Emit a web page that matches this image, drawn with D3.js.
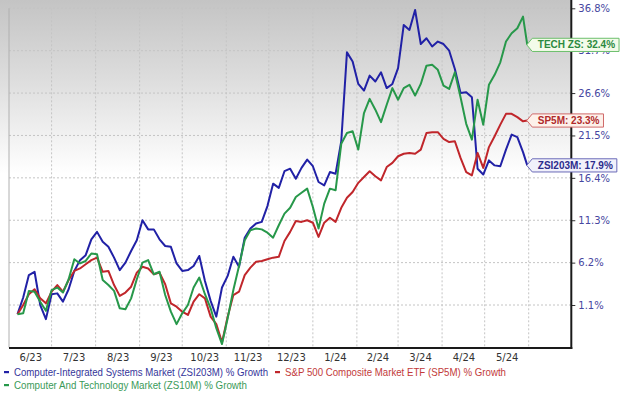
<!DOCTYPE html>
<html>
<head>
<meta charset="utf-8">
<script src="https://cdn.jsdelivr.net/npm/d3@7"></script>
<style>
  body { margin: 0; background: #fff; }
  svg { display: block; }
</style>
</head>
<body>
<svg id="chart"></svg>
<script>
// sample dates, every 4 days (shared by the three series)
let dates = [
  "2023-06-07","2023-06-11","2023-06-15","2023-06-19","2023-06-23","2023-06-27",
  "2023-07-01","2023-07-05","2023-07-09","2023-07-13","2023-07-17","2023-07-21","2023-07-25","2023-07-29",
  "2023-08-02","2023-08-06","2023-08-10","2023-08-14","2023-08-18","2023-08-22","2023-08-26","2023-08-30",
  "2023-09-03","2023-09-07","2023-09-11","2023-09-15","2023-09-19","2023-09-23","2023-09-27",
  "2023-10-01","2023-10-05","2023-10-09","2023-10-13","2023-10-17","2023-10-21","2023-10-25","2023-10-29",
  "2023-11-02","2023-11-06","2023-11-10","2023-11-14","2023-11-18","2023-11-22","2023-11-26","2023-11-30",
  "2023-12-04","2023-12-08","2023-12-12","2023-12-16","2023-12-20","2023-12-24","2023-12-28",
  "2024-01-01","2024-01-05","2024-01-09","2024-01-13","2024-01-17","2024-01-21","2024-01-25","2024-01-29",
  "2024-02-02","2024-02-06","2024-02-10","2024-02-14","2024-02-18","2024-02-22","2024-02-26",
  "2024-03-01","2024-03-05","2024-03-09","2024-03-13","2024-03-17","2024-03-21","2024-03-25","2024-03-29",
  "2024-04-02","2024-04-06","2024-04-10","2024-04-14","2024-04-18","2024-04-22","2024-04-26","2024-04-30",
  "2024-05-04","2024-05-08","2024-05-12","2024-05-16","2024-05-20","2024-05-24","2024-05-28","2024-05-31"
]

// % growth
let zsi203m = [
  0, 2.0, 4.7, 5.1, 1.1, -0.6, 2.4, 2.5, 1.5, 3.0,
  5.2, 6.5, 7.1, 9.0, 9.9, 8.7, 8.1, 6.8, 5.3, 6.2,
  7.6, 8.9, 11.3, 10.2, 10.2, 9.0, 8.2, 8.1, 6.1, 5.2,
  5.3, 5.8, 7.0, 4.0, 1.6, -0.3, 3.2, 4.6, 6.9, 5.7,
  9.2, 10.3, 10.9, 11.1, 13.0, 15.7, 15.2, 17.2, 17.5, 16.3,
  17.6, 18.6, 17.8, 15.9, 15.5, 17.1, 16.9, 20.8, 31.5, 30.4,
  27.7, 26.9, 28.7, 28.0, 29.1, 27.2, 27.7, 29.6, 34.8, 34.2,
  36.6, 32.5, 33.2, 32.2, 32.8, 32.5, 31.7, 29.5, 26.6, 26.7,
  26.1, 17.5, 16.8, 18.5, 17.9, 17.8, 19.8, 21.6, 21.3, 19.5,
  17.9
]
let sp5m = [
  0, 1.1, 2.4, 3.0, 1.9, 1.3, 2.7, 3.5, 2.7, 4.1,
  5.2, 5.5, 6.0, 6.5, 6.8, 5.1, 5.2, 3.5, 2.2, 2.6,
  3.3, 5.0, 5.7, 5.5, 4.8, 5.0, 3.6, 1.3, 0.9, 0.3,
  -0.1, 1.5, 2.4, 1.9, -0.3, -1.2, -3.4, -0.3, 2.3, 2.7,
  4.7, 5.6, 6.3, 6.4, 6.6, 6.8, 6.9, 8.8, 9.9, 11.2,
  11.1, 11.3, 11.0, 9.3, 11.0, 11.6, 11.1, 12.8, 14.0, 14.7,
  15.8, 16.5, 17.2, 16.6, 16.1, 17.7, 18.2, 19.0, 19.3, 19.4,
  19.3, 19.8, 21.8, 21.9, 21.9, 21.1, 20.7, 20.8, 18.8, 17.1,
  16.7, 19.4, 17.6, 20.1, 21.4, 22.8, 24.1, 24.1, 23.7, 23.2,
  23.3
]
let zs10m = [
  0, 0.1, 2.8, 2.7, 1.5, 0.4, 2.9, 3.2, 2.6, 4.2,
  6.6, 6.1, 6.4, 7.3, 7.2, 4.1, 3.5, 2.8, 0.7, 0.6,
  1.9, 4.2, 6.2, 6.5, 4.8, 5.1, 2.3, 0.3, -1.2, 0.1,
  1.1, 3.2, 4.4, 2.4, 0.7, -1.7, -3.6, -0.5, 2.9, 5.8,
  8.9, 10.1, 10.3, 10.2, 9.8, 9.2, 10.7, 12.1, 12.8, 14.1,
  14.6, 15.1, 12.9, 10.3, 13.3, 15.1, 14.9, 20.5, 21.8, 22.0,
  19.8, 24.2, 25.9, 24.6, 23.1, 25.2, 27.2, 25.8, 27.2, 27.6,
  26.3, 27.7, 29.9, 30.0, 29.4, 27.5, 27.1, 29.1, 26.1, 22.9,
  21.0, 25.8, 22.8, 27.6, 28.8, 30.3, 32.8, 33.8, 34.4, 35.8,
  32.4
]

let yTicks = [1.1, 6.2, 11.3, 16.4, 21.5, 26.6, 31.7, 36.8]
let months = ["2023-06-01","2023-07-01","2023-08-01","2023-09-01","2023-10-01","2023-11-01",
  "2023-12-01","2024-01-01","2024-02-01","2024-03-01","2024-04-01","2024-05-01","2024-06-01"]
let monthLabels = ["6/23","7/23","8/23","9/23","10/23","11/23","12/23","1/24","2/24","3/24","4/24","5/24"]

let seriesNames = [
  "Computer-Integrated Systems Market (ZSI203M) % Growth",
  "S&P 500 Composite Market ETF (SP5M) % Growth",
  "Computer And Technology Market (ZS10M) % Growth"
]
let tagNames = ["ZSI203M", "SP5M", "TECH ZS"]

let width = 620, height = 393
let plot = { left: 9, right: 571.3, top: 8.3, bottom: 347.4 }

let parse = d3.utcParse("%Y-%m-%d")
let dateObjs = dates.map(parse)

let styles = [
  { line: "#2121a6", text: "#35359a", tagText: "#2c2c8c", fill: "#f1f1fb", stroke: "#6a6ab8" },
  { line: "#c0262b", text: "#c23a3a", tagText: "#b02a2a", fill: "#fdf1ea", stroke: "#d06a6a" },
  { line: "#27984a", text: "#3a9a58", tagText: "#2c8a3e", fill: "#f3fbe9", stroke: "#6cbf6c" }
]
let allValues = [zsi203m, sp5m, zs10m]

let svg = d3.select("#chart").attr("width", width).attr("height", height)

let xScale = d3.scaleUtc()
  .domain([parse("2023-06-01"), parse("2024-07-01")])
  .range([plot.left, plot.right])

let yScale = d3.scaleLinear()
  .domain([-4.0, 36.8])
  .range([plot.bottom, plot.top])

// background gradient
let grad = svg.append("defs").append("linearGradient")
  .attr("id", "bg").attr("x1", 0).attr("y1", 0).attr("x2", 0).attr("y2", 1)
grad.append("stop").attr("offset", "0%").attr("stop-color", "#c4c4c4")
grad.append("stop").attr("offset", "22%").attr("stop-color", "#dcdcdc")
grad.append("stop").attr("offset", "50%").attr("stop-color", "#ffffff")

svg.append("rect")
  .attr("x", 0).attr("y", 0)
  .attr("width", plot.right).attr("height", plot.bottom)
  .attr("fill", "url(#bg)")

// grid
svg.append("g")
  .selectAll("line")
  .data(yTicks)
  .join("line")
  .attr("x1", plot.left).attr("x2", plot.right)
  .attr("y1", d => yScale(d)).attr("y2", d => yScale(d))
  .attr("stroke", "#c4c4c4")
  .attr("stroke-dasharray", "2,2")

svg.append("g")
  .selectAll("line")
  .data(months.slice(1))
  .join("line")
  .attr("x1", d => xScale(parse(d))).attr("x2", d => xScale(parse(d)))
  .attr("y1", plot.top).attr("y2", plot.bottom)
  .attr("stroke", "#c4c4c4")
  .attr("stroke-dasharray", "2,2")

svg.append("line") // left border
  .attr("x1", plot.left).attr("x2", plot.left)
  .attr("y1", plot.top).attr("y2", plot.bottom)
  .attr("stroke", "#b0b0b0")

// lines
let lineGen = d3.line()
  .x((d, i) => xScale(dateObjs[i]))
  .y(d => yScale(d))

let drawOrder = [0, 1, 2]
for (let i of drawOrder) {
  svg.append("path")
    .attr("d", lineGen(allValues[i]))
    .attr("fill", "none")
    .attr("stroke", styles[i].line)
    .attr("stroke-width", 2)
    .attr("stroke-linejoin", "round")
}

// right axis
let yAxis = d3.axisRight(yScale)
  .tickValues(yTicks)
  .tickFormat(d => d.toFixed(1) + "%")
  .tickSize(4)
  .tickPadding(3)

let yg = svg.append("g")
  .attr("transform", "translate(" + plot.right + ",0)")
  .call(yAxis)
yg.select(".domain").remove()
yg.selectAll(".tick line").attr("stroke", "#333")
yg.selectAll(".tick text")
  .attr("fill", "#4646a0")
  .style("font", "10px 'DejaVu Sans'")

svg.append("line")
  .attr("x1", plot.right).attr("x2", plot.right)
  .attr("y1", 0).attr("y2", plot.bottom + 1.5)
  .attr("stroke", "#1a1a1a").attr("stroke-width", 2)

svg.append("line")
  .attr("x1", plot.left).attr("x2", plot.right + 1)
  .attr("y1", plot.bottom + 0.6).attr("y2", plot.bottom + 0.6)
  .attr("stroke", "#1a1a1a").attr("stroke-width", 2)

// month labels, centered in each month
let midMonths = monthLabels.map((lab, i) => new Date((+parse(months[i]) + +parse(months[i + 1])) / 2))
let xAxis = d3.axisBottom(xScale)
  .tickValues(midMonths)
  .tickFormat((d, i) => monthLabels[i])
  .tickSize(0)
  .tickPadding(6)

let xg = svg.append("g")
  .attr("transform", "translate(0," + (plot.bottom + 1) + ")")
  .call(xAxis)
xg.select(".domain").remove()
xg.selectAll(".tick text")
  .attr("fill", "#333")
  .style("font", "10px 'DejaVu Sans'")

// legend
let legendPos = [[14, 372, 254], [285, 372, 221], [14, 385, 233]]
legendPos.forEach((p, i) => {
  svg.append("rect")
    .attr("x", p[0] - 10).attr("y", p[1] - 1)
    .attr("width", 5).attr("height", 2.2)
    .attr("fill", styles[i].line)
  svg.append("text")
    .attr("x", p[0]).attr("y", p[1])
    .attr("dy", "0.35em")
    .attr("textLength", p[2])
    .attr("lengthAdjust", "spacingAndGlyphs")
    .attr("fill", styles[i].text)
    .style("font", "10.5px 'Liberation Sans', Arial, sans-serif")
    .text(seriesNames[i])
})

// end-of-line tags
let last = dateObjs.length - 1
allValues.forEach((vals, i) => {
  let v = vals[last]
  let tipX = xScale(dateObjs[last]) - 0.5
  let yc = yScale(v)
  let g = svg.append("g")
  let path = g.append("path")
  let txt = g.append("text")
    .attr("x", tipX + 11).attr("y", yc)
    .attr("dy", "0.36em")
    .attr("fill", styles[i].tagText)
    .style("font", "bold 10px 'Liberation Sans', Arial, sans-serif")
    .text(tagNames[i] + ": " + v.toFixed(1) + "%")
  let right = tipX + 11 + txt.node().getComputedTextLength() + 4
  let h = 6.6
  path
    .attr("d", "M" + tipX + "," + yc +
      "L" + (tipX + 5.5) + "," + (yc - h) +
      "L" + right + "," + (yc - h) +
      "L" + right + "," + (yc + h) +
      "L" + (tipX + 5.5) + "," + (yc + h) + "Z")
    .attr("fill", styles[i].fill)
    .attr("stroke", styles[i].stroke)
    .attr("stroke-width", 1)
    .attr("stroke-linejoin", "round")
})
</script>
</body>
</html>
